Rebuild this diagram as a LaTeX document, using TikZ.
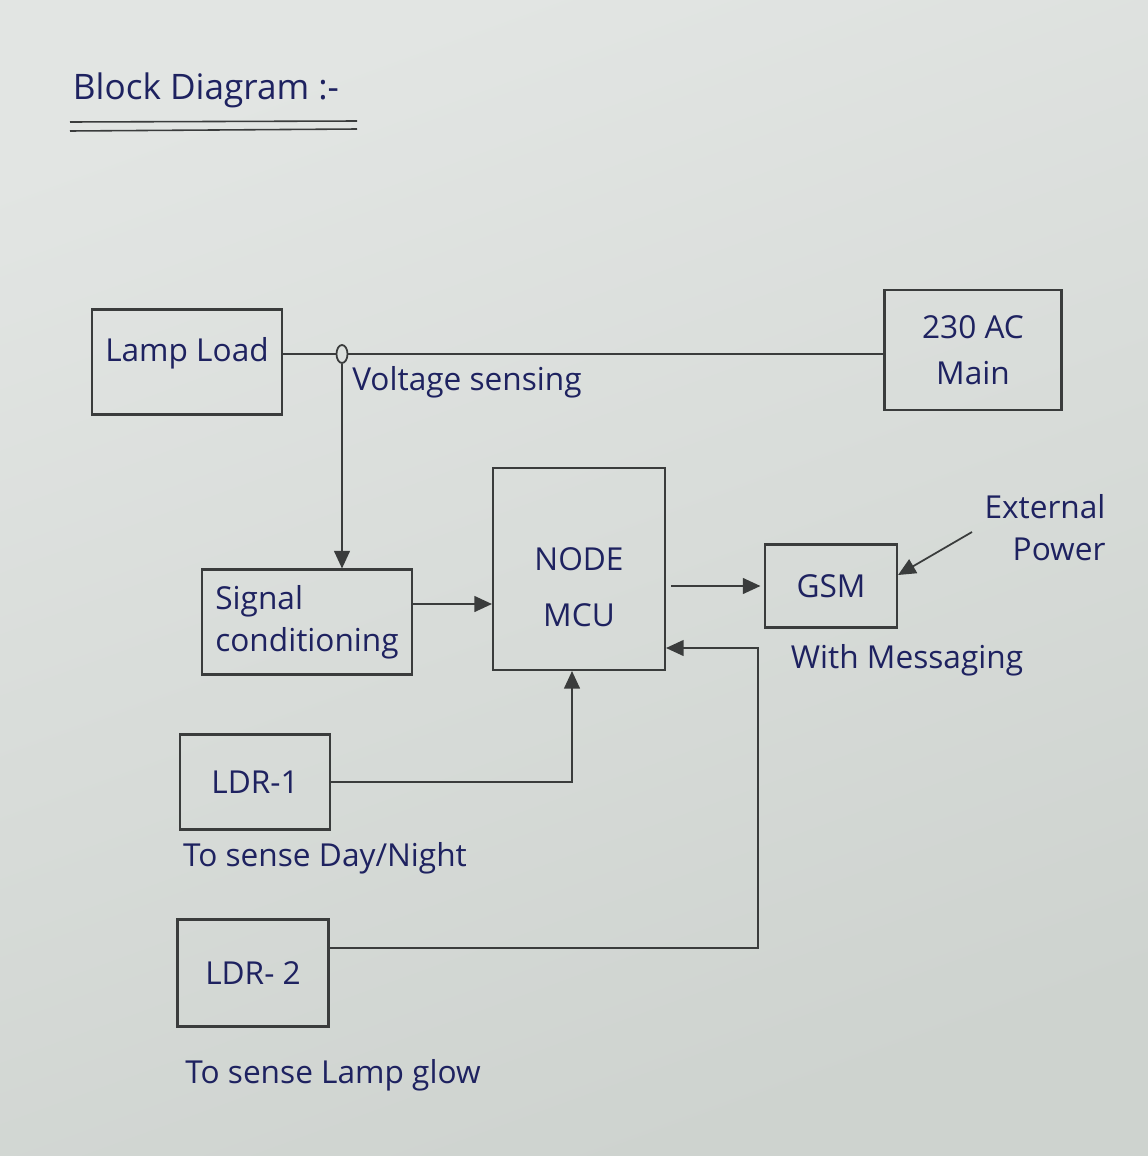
\documentclass[tikz,border=0pt]{standalone}
\usepackage{fontspec}
\setmainfont{Open Sans}
\usetikzlibrary{arrows.meta,shapes.geometric}
\definecolor{paperA}{RGB}{206,211,207}
\definecolor{paperB}{RGB}{226,229,227}
\definecolor{ink}{RGB}{30,34,96}
\definecolor{pencil}{RGB}{58,60,60}
\begin{document}
\begin{tikzpicture}[x=0.02cm,y=-0.02cm,
  blk/.style={draw=pencil, line width=1.2pt, inner sep=0pt, text=ink,
    font=\fontsize{18}{24}\selectfont, align=center},
  lbl/.style={text=ink, font=\fontsize{18}{24}\selectfont, inner sep=0pt},
  arr/.style={draw=pencil, line width=1.0pt, -{Triangle[length=10pt,width=9pt]}},
  wire/.style={draw=pencil, line width=1.0pt}]
\shade[top color=paperB, bottom color=paperA, shading angle=20] (0,0) rectangle (1148,1156);
\useasboundingbox (0,0) rectangle (1148,1156);

% title
\node[lbl, font=\fontsize{20}{24}\selectfont] (title) at (206,90) {Block Diagram :-};
\coordinate (u1a) at (70,122); \coordinate (u1b) at (357,121);
\coordinate (u2a) at (70,131); \coordinate (u2b) at (357,129);
\draw[wire, line width=0.9pt] (u1a) -- (u1b);
\draw[wire, line width=0.9pt] (u2a) -- (u2b);

% blocks
\node[blk, minimum width=3.8cm, minimum height=2.1cm, text depth=0.5cm] (lamp) at (187,362) {Lamp Load};
\node[blk, minimum width=3.54cm, minimum height=2.4cm] (main) at (973,350) {230 AC\\[2pt]Main};
\node[blk, minimum width=3.44cm, minimum height=4.04cm,
  label={[lbl, align=center, yshift=-0.36cm]center:NODE\\[8pt]MCU}] (mcu) at (579,569) {};
\node[blk, minimum width=4.2cm, minimum height=2.1cm, align=left] (sig) at (307,622) {Signal\\conditioning};
\node[blk, minimum width=2.64cm, minimum height=1.66cm] (gsm) at (831,586) {GSM};
\node[blk, minimum width=3.0cm, minimum height=1.9cm] (ldr1) at (255,782) {LDR-1};
\node[blk, minimum width=3.02cm, minimum height=2.14cm] (ldr2) at (253,973) {LDR- 2};

% tap point
\node[draw=pencil, line width=1.0pt, ellipse, minimum width=0.22cm, minimum height=0.36cm, inner sep=0pt] (tap) at (342,354) {};

% labels
\node[lbl] (vs) at (467,382) {Voltage sensing};
\node[lbl, align=right] (ext) at (1045,528) {External\\Power};
\node[lbl] (msg) at (907,660) {With Messaging};
\node[lbl] (day) at (325,858) {To sense Day/Night};
\node[lbl] (glow) at (333,1075) {To sense Lamp glow};

% connectors
\draw[wire] (lamp.east |- tap) -- (tap.west);
\draw[wire] (tap.east) -- (main.west |- tap);
\draw[arr] (tap.south) -- (sig.north -| tap);
\draw[arr] ([yshift=0.36cm]sig.east) -- ([yshift=0.36cm]sig.east -| mcu.west);
\draw[arr, shorten <=3pt, shorten >=2pt] (mcu.east |- gsm.west) -- (gsm.west);
\coordinate (extend) at (972,532);
\draw[arr] (extend) -- ([yshift=0.22cm]gsm.east);
\draw[arr] (ldr1.east) -| ([xshift=-0.14cm]mcu.south);
\coordinate (turn) at (758,648);
\draw[arr] ([yshift=0.5cm]ldr2.east) -| (turn) -- (turn -| mcu.east);
\end{tikzpicture}
\end{document}
